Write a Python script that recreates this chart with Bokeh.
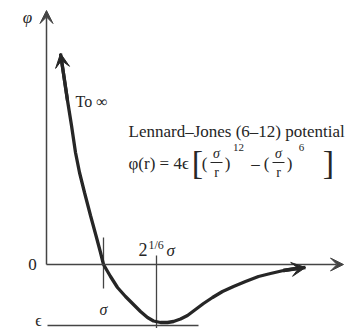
from bokeh.plotting import figure
from bokeh.models import Range1d, Arrow, VeeHead, Label
from bokeh.embed import file_html
from bokeh.resources import INLINE

# Schematic Lennard-Jones potential: separation r (horizontal), potential phi (vertical)
r_curve = [13, 16, 20, 24, 28, 32, 37, 43, 49, 53, 56, 63, 70, 78, 86, 93, 100, 106,
           113, 120, 126, 133, 140, 148, 156, 165, 175, 186, 198, 211, 223, 236, 248, 258]
phi_curve = [211, 191, 164, 139, 112, 92, 72, 49, 27, 12, 0, -12, -23, -32, -40, -47, -53, -56.5,
             -58, -58, -57, -54.5, -51, -45, -39, -33, -27, -22, -17, -12, -9, -6, -4, -3]

sigma = 56        # zero crossing of the potential
r_min = 109       # position of the minimum, 2^(1/6) sigma
epsilon = -61     # depth of the well

INK = "#262626"
AXIS = "#444444"
SERIF = "Liberation Serif"

p = figure(width=346, height=328, output_backend="svg", toolbar_location=None,
           x_range=Range1d(-47, 299), y_range=Range1d(-64, 264),
           x_axis_location=None, y_axis_location=None, min_border=0)
p.grid.visible = False
p.outline_line_color = None
p.background_fill_color = "white"

# axes drawn as arrows
p.add_layout(Arrow(end=VeeHead(size=13, fill_color=AXIS, line_color=AXIS, line_width=1),
                   x_start=-1, y_start=0, x_end=-1, y_end=254,
                   line_color=AXIS, line_width=1.5))
p.add_layout(Arrow(end=VeeHead(size=13, fill_color=AXIS, line_color=AXIS, line_width=1),
                   x_start=-1, y_start=0, x_end=296, y_end=0,
                   line_color=AXIS, line_width=1.5))

# reference marks: sigma tick, minimum position, well depth
p.segment(x0=[sigma], y0=[27], x1=[sigma], y1=[-24], line_color=AXIS, line_width=1.3)
p.segment(x0=[r_min], y0=[9], x1=[r_min], y1=[-64], line_color=AXIS, line_width=1.3)
p.segment(x0=[0], y0=[epsilon], x1=[151], y1=[epsilon], line_color=AXIS, line_width=1.3)

# potential curve with arrowheads at both ends
p.line(r_curve, phi_curve, line_color=INK, line_width=3.3)
p.add_layout(Arrow(end=VeeHead(size=14, fill_color=INK, line_color=INK, line_width=1),
                   x_start=r_curve[2], y_start=phi_curve[2], x_end=r_curve[0], y_end=phi_curve[0],
                   line_color=INK, line_width=3.3))
p.add_layout(Arrow(end=VeeHead(size=14, fill_color=INK, line_color=INK, line_width=1),
                   x_start=r_curve[-3], y_start=phi_curve[-3], x_end=r_curve[-1], y_end=phi_curve[-1],
                   line_color=INK, line_width=3.3))


def lab(x, y, text, size="17px", style="normal", align="left", baseline="middle"):
    p.add_layout(Label(x=x, y=y, text=text, text_font=SERIF, text_font_size=size,
                       text_font_style=style, text_color=INK, text_align=align,
                       text_baseline=baseline))


lab(-20, 247, "φ", style="italic", align="center")
lab(-15, 0, "0", align="center")
lab(-9, -56, "ϵ", size="16px", align="center")
lab(sigma, -45, "σ", size="16px", style="italic", align="center")
lab(91, 15, "2", size="18px")
lab(101, 20, "1/6", size="12px")
lab(119, 14, "σ", size="17px", style="italic")
lab(28, 163, "To ∞", size="16px")
lab(81, 133, "Lennard–Jones (6–12) potential", size="17px")

# phi(r) = 4 eps [ (sigma/r)^12 - (sigma/r)^6 ]
lab(81, 101, "φ(r) = 4ϵ", size="17px")
lab(150, 102, "[", size="34px", align="center")
lab(157, 101, "(", align="center")
lab(169, 111, "σ", size="14px", style="italic", align="center")
lab(169, 92, "r", size="14px", align="center")
lab(180, 101, ")", align="center")
lab(191, 117, "12", size="11px", align="center")
lab(208, 101, "–", align="center")
lab(219, 101, "(", align="center")
lab(231, 111, "σ", size="14px", style="italic", align="center")
lab(231, 92, "r", size="14px", align="center")
lab(242, 101, ")", align="center")
lab(254, 117, "6", size="11px", align="center")
lab(281, 102, "]", size="34px", align="center")
p.segment(x0=[163, 225], y0=[102, 102], x1=[175, 237], y1=[102, 102], line_color=INK, line_width=1)

open("out.html", "w").write(file_html(p, INLINE))
